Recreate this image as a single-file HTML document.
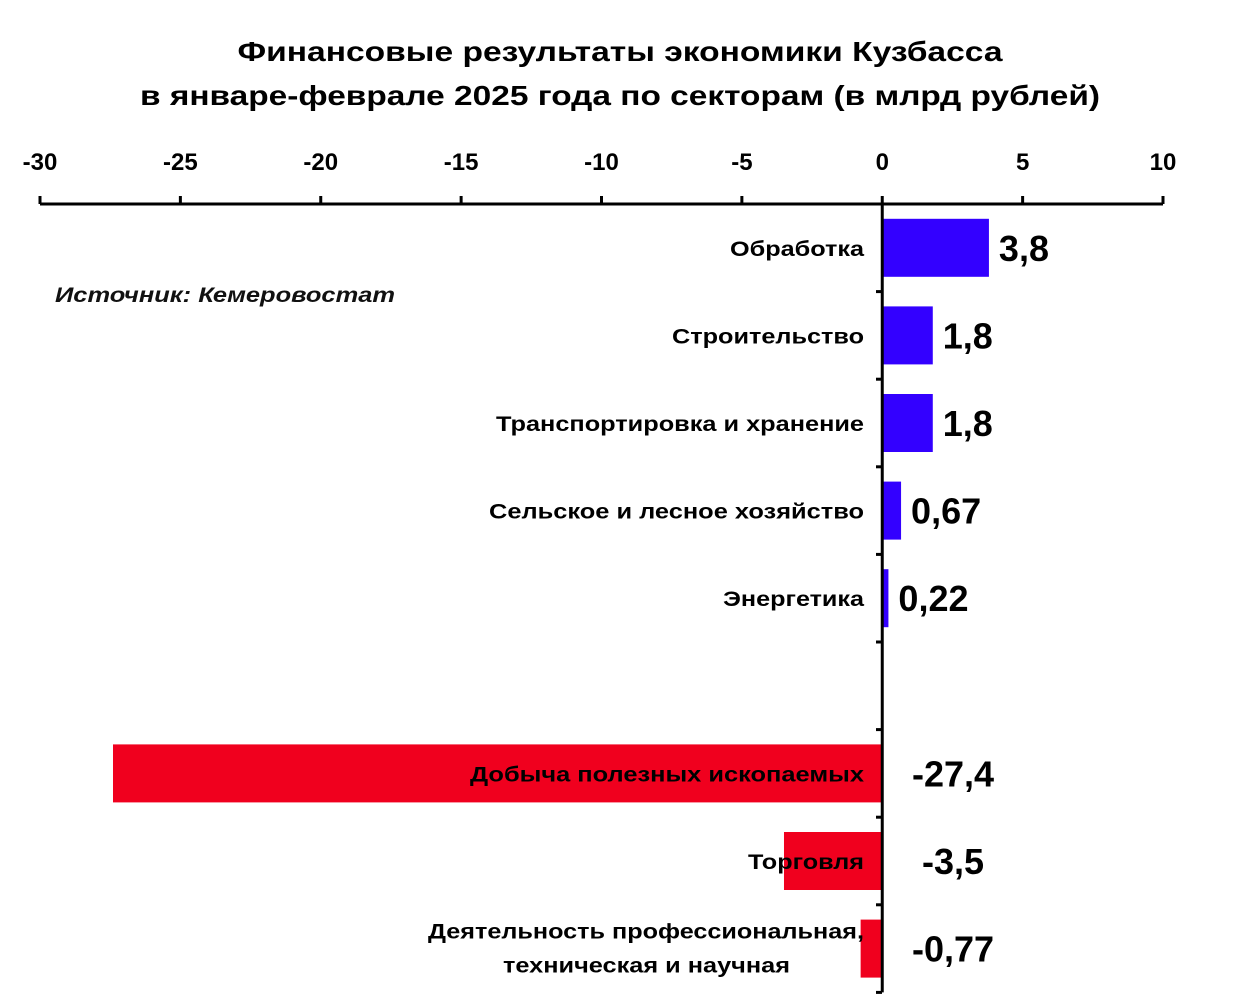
<!DOCTYPE html>
<html><head><meta charset="utf-8"><style>
body{margin:0;background:#fff;}
svg{display:block;font-family:"Liberation Sans",sans-serif;}
</style></head><body>
<svg id="c" width="1241" height="998">
<text x="620" y="61" text-anchor="middle" font-size="28" font-weight="bold" textLength="765" lengthAdjust="spacingAndGlyphs">Финансовые результаты экономики Кузбасса</text>
<text x="620" y="105" text-anchor="middle" font-size="28" font-weight="bold" textLength="960" lengthAdjust="spacingAndGlyphs">в январе-феврале 2025 года по секторам (в млрд рублей)</text>
<text x="55" y="302" font-size="21" font-style="italic" font-weight="bold" fill="#111" textLength="340" lengthAdjust="spacingAndGlyphs">Источник: Кемеровостат</text>
<g id="g"></g>
</svg>
<script>
const categories=["Обработка","Строительство","Транспортировка и хранение","Сельское и лесное хозяйство","Энергетика","","Добыча полезных ископаемых","Торговля","Деятельность профессиональная,|техническая и научная"];
const values=[3.8,1.8,1.8,0.67,0.22,null,-27.4,-3.5,-0.77];
const valueLabels=["3,8","1,8","1,8","0,67","0,22","","-27,4","-3,5","-0,77"];
const ticks=[-30,-25,-20,-15,-10,-5,0,5,10];
const labelWidths=[[134],[192],[368],[375],[141],[0],[394],[116],[436,287]];
const NS="http://www.w3.org/2000/svg";
const g=document.getElementById('g');
const x=v=>40+(v+30)*(1123/40);
const top0=204,band=87.6;
const y=i=>top0+i*band;
function el(t,a){const e=document.createElementNS(NS,t);for(const k in a)e.setAttribute(k,a[k]);g.appendChild(e);return e;}
let ax=el('line',{x1:40,x2:1163,y1:top0,y2:top0,stroke:'#000','stroke-width':3});


ticks.forEach(t=>{
 let l=el('line',{x1:x(t),x2:x(t),y1:top0,y2:top0-8,stroke:'#000','stroke-width':3});
 
 
 let tx=el('text',{x:x(t),y:170,'text-anchor':'middle','font-size':24,'font-weight':'bold'});
 tx.textContent=t;
 
 
});
values.forEach((v,i)=>{
 const cy=y(i)+band/2;
 if(v!==null){
  const x0=x(Math.min(0,v)),w=Math.abs(x(v)-x(0));
  let r=el('rect',{x:x0,y:cy-29,width:w,height:58,fill:v>=0?'#3300ff':'#f0001e'});
  
  
  let vl=el('text',{x:v>=0?x(v)+10:953,y:cy+13,'font-size':36,'font-weight':'bold','text-anchor':v>=0?'start':'middle'});
  vl.textContent=valueLabels[i];
  
  
 }
 const parts=categories[i].split('|');
 parts.forEach((p,j)=>{
  if(!p)return;
  let c=el('text',{x:864,y:cy+8+(parts.length>1?(j-0.5)*34-1:0),'text-anchor':'end','font-size':21,'font-weight':'bold',textLength:labelWidths[i][j],lengthAdjust:'spacingAndGlyphs'});
  if(parts.length>1&&j==1)c.setAttribute('x',790);
  c.textContent=p;
  
  
 });
 let tk=el('line',{x1:876,x2:882,y1:y(i+1),y2:y(i+1),stroke:'#000','stroke-width':3});
 
 
});
let ya=el('line',{x1:x(0),x2:x(0),y1:top0,y2:y(9),stroke:'#000','stroke-width':3});


</script>
</body></html>
